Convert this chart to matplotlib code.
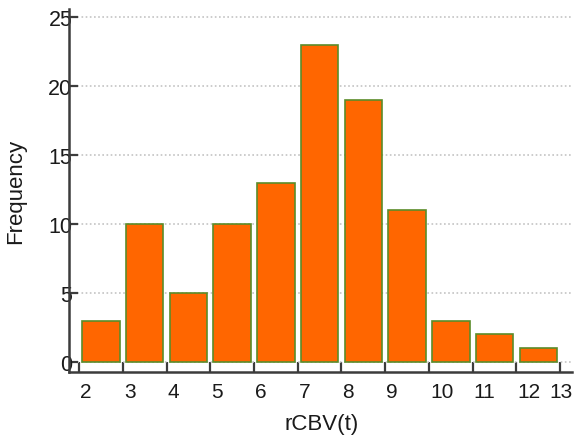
import matplotlib
matplotlib.use("Agg")
import matplotlib.pyplot as plt
import matplotlib.transforms as mtransforms
import numpy as np

# histogram of rCBV(t): bin left edges and counts
bin_edges = [2, 3, 4, 5, 6, 7, 8, 9, 10, 11, 12, 13]
counts = [3, 10, 5, 10, 13, 23, 19, 11, 3, 2, 1]
y_ticks = [0, 5, 10, 15, 20, 25]

plt.rcParams['font.family'] = ['Liberation Sans', 'DejaVu Sans']

fig = plt.figure(figsize=(5.74, 4.39), dpi=100)
ax = fig.add_axes([69/574, 66/439, 503/574, 363/439])

lefts = np.array(bin_edges[:-1])
ax.bar(lefts + 0.5, counts, width=0.86, color='#ff6600',
       edgecolor='#5b8c2a', linewidth=1.2, zorder=3)

ax.set_xlim(1.771, 13.27)
ax.set_ylim(-0.725, 25.58)

ax.set_yticks(y_ticks)
ax.set_yticklabels([str(v) for v in y_ticks])
ax.set_xticks(bin_edges)
ax.set_xticklabels([str(v) for v in bin_edges])

ax.yaxis.grid(True, linestyle=(0, (1, 1.5)), color='#c4c4c4', linewidth=1.2, zorder=0)
ax.set_axisbelow(True)

for s in ['top', 'right']:
    ax.spines[s].set_visible(False)
for s in ['left', 'bottom']:
    ax.spines[s].set_color('#3c3c3c')
    ax.spines[s].set_linewidth(1.8)

ax.tick_params(axis='y', direction='in', length=6.5, width=1.6, color='#3c3c3c',
               labelsize=15.5, pad=-2.5, labelcolor='#1a1a1a')
ax.tick_params(axis='x', direction='in', length=7, width=1.6, color='#3c3c3c',
               labelsize=15, pad=7.5, labelcolor='#1a1a1a')

# x labels sit just right of their tick, last one pulled in from the edge
offset = mtransforms.ScaledTranslation(1/100, 0, fig.dpi_scale_trans)
last_offset = mtransforms.ScaledTranslation(12/100, 0, fig.dpi_scale_trans)
labels = ax.get_xticklabels()
for lab in labels[:-1]:
    lab.set_horizontalalignment('left')
    lab.set_transform(lab.get_transform() + offset)
labels[-1].set_horizontalalignment('right')
labels[-1].set_transform(labels[-1].get_transform() + last_offset)

ax.set_xlabel('rCBV(t)', fontsize=16, color='#1a1a1a')
ax.xaxis.set_label_coords(0.503, -0.143)
ax.xaxis.label.set_verticalalignment('center')
ax.set_ylabel('Frequency', fontsize=16, color='#1a1a1a')
ax.yaxis.set_label_coords(-0.107, 0.5)
ax.yaxis.label.set_verticalalignment('center')

fig.savefig('out.png', dpi=100)
